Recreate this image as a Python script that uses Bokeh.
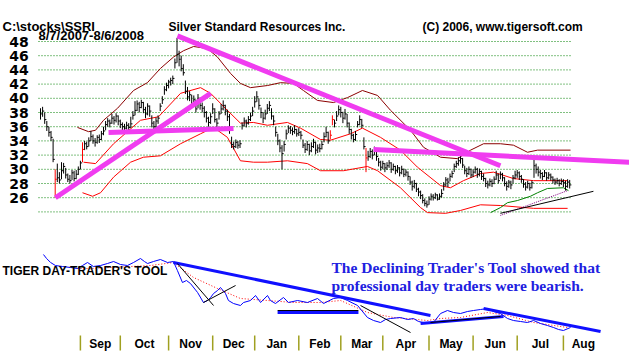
from bokeh.plotting import figure
from bokeh.models import Range1d, Label
from bokeh.core.properties import value
from bokeh.embed import file_html
from bokeh.resources import INLINE

# ---------------- data: daily bars, trading-day index 0 = 8/7/2007 ----------------
close = [
    37.8, 38.2, 37.0, 36.0, 35.2, 34.5, 31.4, 28.6, 28.8, 28.5,
    29.8, 30.4, 29.2, 28.6, 28.4, 29.5, 28.7, 29.3, 30.0, 30.9,
    32.8, 33.6, 33.2, 34.0, 34.6, 34.0, 33.8, 34.5, 34.2, 35.0,
    35.4, 36.3, 36.8, 36.5, 37.2, 36.9, 37.5, 36.8, 36.3, 36.0,
    35.8, 36.2, 35.9, 36.4, 37.6, 38.3, 39.2, 38.7, 39.4, 38.4,
    37.8, 38.9, 38.2, 36.5, 36.0, 36.8, 37.2, 38.9, 39.8, 41.2,
    41.8, 42.3, 42.5, 42.8, 45.0, 46.2, 45.5, 44.2, 43.6, 41.0,
    40.2, 40.5, 39.2, 39.8, 38.5, 40.0, 39.0, 38.6, 38.0, 37.2,
    36.6, 37.4, 38.5, 37.0, 36.5, 37.8, 38.5, 39.0, 38.2, 37.4,
    35.8, 33.5, 33.2, 33.8, 33.4, 33.6, 36.2, 36.8, 36.5, 37.0,
    37.5, 38.2, 39.5, 40.2, 39.0, 38.0, 37.2, 37.8, 38.6, 39.0,
    37.5, 36.8, 35.2, 34.0, 33.0, 32.2, 33.5, 35.0, 35.8, 35.5,
    35.3, 35.6, 35.0, 35.2, 34.8, 33.4, 32.8, 33.5, 32.6, 33.2,
    33.8, 32.7, 33.0, 32.9, 33.5, 34.6, 35.2, 34.0, 34.8, 37.0,
    36.5, 37.5, 38.4, 38.0, 37.2, 37.8, 36.5, 35.6, 34.8, 34.2,
    34.9, 36.3, 37.0, 36.2, 33.2, 31.6, 31.8, 32.5, 32.0, 32.8,
    31.8, 31.0, 30.3, 30.8, 30.2, 30.5, 30.9, 30.0, 30.4, 29.8,
    30.2, 29.5, 30.0, 29.3, 29.6, 29.0, 28.2, 27.6, 28.0, 27.2,
    26.8, 26.3, 25.6, 25.2, 25.0, 25.8, 26.2, 26.0, 26.4, 25.8,
    26.2, 26.6, 27.8, 28.5, 28.2, 29.0, 29.4, 30.4, 30.8, 31.2,
    31.5, 30.6, 29.8, 29.4, 30.0, 29.2, 29.6, 30.0, 29.3, 29.7,
    29.0, 28.7, 28.0, 27.8, 28.3, 28.0, 28.6, 29.2, 28.4, 29.3,
    28.8, 28.0, 27.6, 28.2, 27.8, 28.8, 29.2, 29.5, 29.0, 28.6,
    27.9, 27.5, 28.0, 27.4, 28.1, 30.5, 30.0, 29.6, 29.4, 29.0,
    29.5, 28.8, 29.2, 28.9, 28.5, 28.2, 28.4, 28.0, 28.3, 28.1,
    27.6, 28.2, 27.8]

high = [
    38.6, 38.8, 38.0, 36.8, 36.0, 35.4, 34.3, 30.0, 30.8, 29.6,
    31.0, 30.9, 30.2, 29.4, 29.2, 29.9, 29.8, 29.9, 30.4, 31.2,
    33.8, 34.0, 33.9, 34.5, 35.4, 34.9, 34.4, 34.8, 34.9, 35.4,
    36.0, 36.8, 37.2, 37.0, 37.8, 37.5, 37.9, 37.6, 37.0, 36.6,
    36.4, 36.7, 36.5, 37.4, 38.2, 39.6, 39.7, 39.5, 39.8, 39.5,
    38.8, 39.3, 39.0, 37.6, 36.8, 37.3, 37.6, 39.3, 40.3, 41.7,
    42.2, 42.6, 42.9, 43.2, 45.6, 48.5, 46.7, 46.0, 44.8, 42.5,
    41.6, 41.0, 40.5, 40.4, 39.8, 40.6, 40.1, 39.4, 38.9, 38.2,
    37.4, 37.9, 39.3, 38.6, 37.2, 38.2, 39.2, 39.7, 39.1, 38.4,
    37.8, 34.6, 33.9, 34.2, 34.0, 34.1, 36.6, 37.3, 37.0, 37.5,
    38.0, 38.8, 40.3, 41.0, 40.0, 38.7, 38.0, 38.4, 39.2, 39.6,
    38.6, 37.6, 36.0, 35.0, 34.2, 33.4, 34.0, 35.6, 36.2, 36.1,
    35.9, 36.2, 35.7, 35.8, 35.4, 34.2, 33.7, 34.0, 33.6, 33.8,
    34.3, 33.9, 33.5, 33.6, 34.0, 35.2, 36.0, 35.3, 35.5, 37.6,
    37.0, 38.2, 39.0, 38.8, 38.1, 38.5, 37.8, 36.6, 35.7, 35.0,
    35.4, 36.8, 37.6, 37.1, 34.5, 33.0, 32.6, 33.0, 32.8, 33.2,
    32.9, 31.6, 31.2, 31.2, 30.9, 31.0, 31.3, 31.0, 30.8, 30.5,
    30.6, 30.3, 30.5, 30.1, 30.0, 29.7, 29.0, 28.4, 28.5, 28.1,
    27.4, 27.0, 26.5, 25.9, 25.6, 26.2, 26.6, 26.5, 26.7, 26.5,
    26.6, 27.2, 28.2, 28.9, 28.8, 29.4, 29.8, 30.8, 31.2, 31.7,
    32.0, 31.6, 30.5, 30.2, 30.4, 30.1, 30.0, 30.4, 30.2, 30.1,
    29.8, 29.4, 28.8, 28.4, 28.7, 28.6, 29.0, 29.8, 29.4, 29.7,
    29.5, 28.9, 28.3, 28.5, 28.4, 29.2, 29.8, 29.9, 29.7, 29.2,
    28.6, 28.2, 28.4, 28.1, 28.4, 31.5, 30.8, 30.4, 29.9, 29.6,
    29.9, 29.6, 29.6, 29.4, 29.0, 28.7, 28.8, 28.6, 28.7, 28.6,
    28.4, 28.6, 28.5]

low = [
    37.0, 37.4, 36.4, 35.4, 34.6, 34.0, 31.0, 26.0, 28.2, 28.0,
    28.6, 29.4, 28.7, 28.2, 28.0, 28.5, 28.3, 28.6, 29.2, 30.0,
    31.0, 32.7, 32.8, 33.2, 34.0, 33.6, 33.2, 33.6, 33.7, 34.1,
    34.8, 35.5, 36.0, 35.9, 36.4, 36.3, 36.6, 36.2, 35.8, 35.5,
    35.3, 35.6, 35.4, 35.8, 37.0, 37.6, 38.2, 38.0, 38.6, 37.9,
    37.2, 37.6, 37.4, 35.9, 35.5, 35.8, 36.4, 38.2, 39.2, 40.5,
    41.0, 41.4, 41.8, 42.0, 44.2, 45.0, 44.5, 43.8, 43.2, 40.6,
    39.7, 39.6, 38.8, 39.0, 38.0, 38.6, 38.4, 38.0, 37.3, 36.6,
    36.0, 36.4, 37.8, 36.6, 35.9, 37.0, 37.8, 38.3, 37.6, 36.8,
    35.0, 33.0, 32.8, 33.0, 32.9, 33.0, 35.6, 36.0, 35.9, 36.3,
    36.8, 37.5, 38.7, 39.5, 38.4, 37.2, 36.5, 37.0, 37.8, 38.2,
    37.0, 36.2, 34.6, 33.4, 32.4, 30.0, 32.5, 34.2, 35.1, 35.0,
    34.8, 35.0, 34.6, 34.7, 34.2, 33.0, 32.3, 32.6, 32.0, 32.4,
    33.0, 32.1, 32.3, 32.4, 32.8, 33.8, 34.5, 33.6, 34.2, 36.2,
    35.9, 36.8, 37.6, 37.3, 36.5, 37.0, 35.9, 35.0, 34.2, 33.8,
    34.0, 35.9, 36.2, 35.8, 32.8, 29.6, 31.2, 31.6, 31.4, 32.0,
    31.2, 30.4, 29.8, 30.0, 29.6, 29.9, 30.2, 29.5, 29.8, 29.3,
    29.5, 29.0, 29.3, 28.9, 29.0, 28.4, 27.8, 27.0, 27.3, 26.8,
    26.2, 25.8, 25.2, 24.8, 24.6, 25.0, 25.6, 25.6, 25.8, 25.6,
    25.7, 26.0, 27.0, 27.6, 27.5, 28.3, 28.8, 29.6, 30.2, 30.5,
    30.8, 30.2, 29.3, 28.9, 29.2, 28.8, 28.9, 29.4, 28.8, 29.0,
    28.5, 28.3, 27.5, 27.3, 27.6, 27.5, 27.9, 28.5, 28.0, 28.6,
    28.3, 27.6, 27.0, 27.4, 27.2, 28.0, 28.6, 28.8, 28.5, 28.1,
    27.4, 27.0, 27.3, 27.0, 27.3, 28.8, 29.4, 29.0, 28.7, 28.5,
    28.9, 28.4, 28.6, 28.4, 28.0, 27.8, 27.9, 27.6, 27.8, 27.5,
    27.0, 27.4, 27.3]

red_days = [7, 20, 138, 139, 155]

price_ticks = [26, 28, 30, 32, 34, 36, 38, 40, 42, 44, 46, 48]
grid_levels = [24, 26, 28, 30, 32, 34, 36, 38, 40, 42, 44, 46, 48]

month_names = ["Sep", "Oct", "Nov", "Dec", "Jan", "Feb", "Mar", "Apr", "May", "Jun", "Jul", "Aug"]
month_start = [19, 38, 61, 82, 102, 123, 143, 163, 185, 206, 227, 249]
next_month_start = 268

# band lines (trading-day index, price)
upper_x = [17.6, 22.9, 26.2, 30.0, 36.7, 44.3, 50.9, 57.1, 63.3, 68.1, 72.9, 79.5, 84.3, 90.5, 95.2,
           100.0, 108.1, 114.3, 120.5, 125.2, 131.9, 139.5, 146.2, 153.3, 160.5, 166.7, 176.2, 182.4,
           190.5, 198.6, 204.8, 211.0, 219.0, 225.2, 231.9, 236.7, 252.4]
upper_y = [35.9, 35.3, 35.5, 36.9, 38.6, 41.1, 42.2, 44.2, 45.8, 46.7, 47.3, 47.0, 45.8, 43.5, 42.1,
           41.5, 41.8, 42.2, 42.1, 41.1, 39.7, 39.4, 40.1, 41.1, 40.4, 38.3, 35.5, 33.1,
           31.7, 31.5, 32.7, 33.6, 33.6, 33.4, 32.4, 32.7, 32.7]

mid_x = [20.5, 26.2, 34.8, 47.6, 56.2, 66.7, 76.2, 81.0, 89.0, 95.2, 101.4, 108.1, 117.6, 123.8, 133.3,
         138.1, 147.6, 153.3, 161.9, 171.4, 179.5, 190.5, 195.2, 201.4, 209.5, 215.7, 225.2, 234.8, 251.0]
mid_y = [31.0, 30.8, 33.6, 36.9, 37.4, 40.7, 41.5, 40.7, 38.3, 36.5, 36.6, 36.2, 36.6, 35.8, 34.2,
         34.1, 35.0, 35.8, 34.5, 32.7, 30.3, 27.7, 27.4, 28.4, 29.4, 29.6, 28.7, 28.4, 28.4]

lower_x = [20.0, 24.8, 28.6, 34.8, 42.9, 49.0, 57.1, 66.7, 76.2, 82.4, 89.0, 95.2, 101.4, 108.1, 117.6,
           127.1, 133.3, 144.3, 155.7, 160.5, 171.4, 181.0, 184.3, 192.9, 200.0, 209.5, 219.0, 234.8, 251.0]
lower_y = [26.7, 26.2, 26.7, 28.9, 31.0, 31.7, 31.9, 33.6, 35.0, 35.9, 34.5, 31.2, 31.0, 31.0, 31.2,
           30.8, 29.8, 29.8, 30.4, 29.8, 27.4, 24.6, 23.9, 23.8, 24.2, 25.0, 24.9, 24.5, 24.5]

green_x = [214.3, 219.0, 222.4, 227.1, 233.3, 236.7, 241.4, 249.0, 251.4]
green_y = [23.9, 24.6, 25.3, 25.6, 26.2, 26.7, 27.3, 27.4, 27.0]

purple_x = [219.0, 251.0]
purple_y = [23.5, 27.0]

black_x = [219.0, 263.3]
black_y = [23.8, 26.9]

# magenta trendlines: (x0, y0, x1, y1)
trend_x0 = [7.1, 32.4, 65.2, 158.6]
trend_y0 = [26.0, 35.2, 48.8, 32.8]
trend_x1 = [81.0, 91.9, 219.0, 280.5]
trend_y1 = [40.7, 35.75, 30.5, 31.0]

# Tiger Day-Trader's Tool (own scale)
dtt_x = [1.4, 2.9, 4.8, 7.1, 10.5, 14.3, 17.6, 20.0, 22.4, 25.2, 28.6, 31.9, 34.8, 38.1, 41.4, 44.3,
         47.6, 49.5, 51.0, 53.8, 57.1, 60.5, 63.3, 65.2, 67.6, 69.5, 71.4, 74.8, 77.6, 79.5, 81.0, 82.4,
         84.3, 85.7, 88.1, 89.5, 91.9, 95.2, 96.7, 100.0, 102.4, 104.8, 108.1, 109.5, 111.9, 115.7,
         118.1, 122.4, 127.1, 131.9, 134.8, 139.5, 142.9, 146.2, 151.0, 155.7, 158.6, 161.9, 164.3,
         166.7, 171.4, 174.8, 177.6, 180.0, 182.4, 187.1, 190.5, 193.8, 196.7, 200.0, 203.3, 206.2,
         209.5, 212.9, 215.7, 219.0, 222.4, 225.2, 228.6, 231.9, 234.8, 238.1, 241.4, 244.3, 246.7,
         249.0, 252.4]
dtt_y = [1, -3, -7, -10, -11, -12, -13, -10, -7, -11, -10, -8, -6, -9, -10, -7,
         -3, -6, -8, -6, -4, -7, -6, -15, -27, -25, -28, -37, -47, -45, -42, -38,
         -35, -32, -38, -45, -48, -50, -47, -45, -40, -47, -40, -45, -48, -42,
         -47, -45, -47, -43, -48, -43, -42, -45, -50, -62, -65, -67, -64,
         -63, -62, -64, -63, -66, -67, -67, -58, -55, -57, -58, -56, -55,
         -54, -53, -56, -58, -63, -65, -66, -67, -65, -68, -70, -72, -74,
         -75, -72]

dtt_ma_x = [17.6, 23.8, 33.3, 52.4, 63.3, 72.9, 84.3, 95.2, 108.1, 120.5, 133.3, 142.9, 155.7, 168.1,
            184.3, 190.5, 200.0, 212.9, 222.4, 234.8, 251.0]
dtt_ma_y = [-13, -13, -12, -10, -7, -22, -33, -43, -45, -47, -47, -45, -57, -62,
            -65, -63, -62, -57, -60, -67, -72]

dtt_trend_x0 = [63.3, 112.9, 181.0, 211.0]
dtt_trend_y0 = [-7, -57, -68, -53]
dtt_trend_x1 = [185.7, 151.4, 220.5, 266.7]
dtt_trend_y1 = [-60, -57, -61, -76]

dtt_thin_x0 = [65.2, 77.6, 152.4, 112.9, 185.7]
dtt_thin_y0 = [-8, -47, -50, -55, -67]
dtt_thin_x1 = [82.4, 92.9, 176.2, 151.4, 219.0]
dtt_thin_y1 = [-50, -30, -77, -55, -61]

# ---------------- figure ----------------
p = figure(width=629, height=352, x_range=Range1d(-19.048, 280.476), y_range=Range1d(4.197, 53.775),
           output_backend="svg", toolbar_location=None, x_axis_type=None, y_axis_type=None,
           min_border=0)
p.outline_line_color = None
p.grid.visible = False
p.background_fill_color = "white"
p.border_fill_color = "white"
p.extra_y_ranges = {"dtt": Range1d(-97, 255)}

F = value("Liberation Sans")

# grid lines
p.segment(x0=[-0.95] * len(grid_levels), y0=grid_levels, x1=[252.4] * len(grid_levels), y1=grid_levels,
          line_color="#008000", line_width=1, line_dash="1 2")

# price axis labels
p.text(x=[-5.6] * len(price_ticks), y=price_ticks, text=[str(t) for t in price_ticks],
       text_align="right", text_baseline="middle", text_font=value("DejaVu Sans"), text_font_size="14px",
       text_font_style="bold", text_color="black")

# bands
p.line(upper_x, upper_y, line_color="#8b0000", line_width=1)
p.line(mid_x, mid_y, line_color="#ff0000", line_width=1)
p.line(lower_x, lower_y, line_color="#ff0000", line_width=1)
p.line(green_x, green_y, line_color="#008000", line_width=1)
p.line(purple_x, purple_y, line_color="#800080", line_width=1, line_dash="1 1")
p.line(black_x, black_y, line_color="black", line_width=1)

# bars
idx = list(range(len(close)))
colors = ["#ff0000" if i in red_days else "black" for i in idx]
p.segment(x0=idx, y0=low, x1=idx, y1=high, line_color=colors, line_width=1)
p.segment(x0=idx, y0=close, x1=[i + 0.8 for i in idx], y1=close, line_color=colors, line_width=1)

# magenta trendlines
p.segment(x0=trend_x0, y0=trend_y0, x1=trend_x1, y1=trend_y1, line_color="#f03cf0", line_width=5)

# day trader's tool panel
p.line(dtt_ma_x, dtt_ma_y, y_range_name="dtt", line_color="#ff0000", line_width=1, line_dash="1 2")
p.line(dtt_x, dtt_y, y_range_name="dtt", line_color="#0000ff", line_width=1)
p.segment(x0=dtt_trend_x0, y0=dtt_trend_y0, x1=dtt_trend_x1, y1=dtt_trend_y1, y_range_name="dtt",
          line_color="#1010ff", line_width=3)
p.segment(x0=dtt_thin_x0, y0=dtt_thin_y0, x1=dtt_thin_x1, y1=dtt_thin_y1, y_range_name="dtt",
          line_color="black", line_width=1)

# month axis
p.segment(x0=month_start, y0=[-80] * 12, x1=month_start, y1=[-95] * 12, y_range_name="dtt",
          line_color="#a0a020", line_width=1.5)
bounds = month_start + [next_month_start]
month_mid = [(bounds[k] + bounds[k + 1]) / 2 for k in range(12)]
p.text(x=month_mid, y=[-88] * 12, text=month_names, y_range_name="dtt", text_align="center",
       text_baseline="middle", text_font=F, text_font_size="12px", text_font_style="bold",
       text_color="black")

# texts
def lab(x, y, t, size, color="black", font="Liberation Sans"):
    p.add_layout(Label(x=x, y=352 - y, x_units="screen", y_units="screen", text=t,
                       text_font=font, text_font_size=size, text_font_style="bold",
                       text_color=color, text_baseline="alphabetic"))

lab(2, 26, "C:\\stocks\\SSRI", "13px")
lab(38, 35, "8/7/2007-8/6/2008", "13px")
lab(168, 26, "Silver Standard Resources Inc.", "12px")
lab(422, 26, "(C) 2006, www.tigersoft.com", "12px")
lab(2, 270, "TIGER DAY-TRADER'S TOOL", "12px")
lab(331, 267, "The Declining Trader's Tool showed that", "15.5px", "#2020e0", "Liberation Serif")
lab(331, 285, "professional day traders were bearish.", "15.5px", "#2020e0", "Liberation Serif")

open("out.html", "w").write(file_html(p, INLINE))
